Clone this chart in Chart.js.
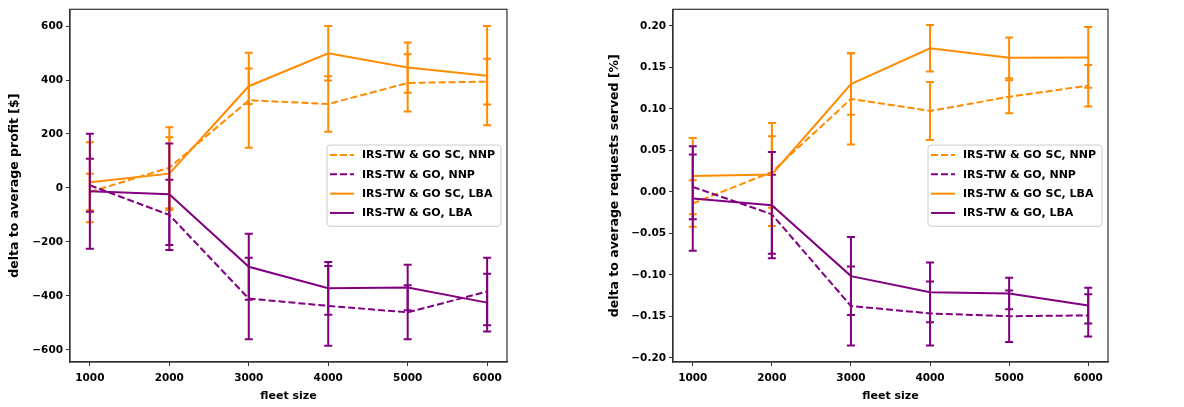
<!DOCTYPE html>
<html>
<head>
<meta charset="utf-8">
<script src="https://cdn.jsdelivr.net/npm/chart.js@4/dist/chart.umd.min.js"></script>
<style>
    html, body { margin: 0; padding: 0; background: #fff; }
    #wrap { position: relative; width: 1184px; height: 407px; }
    .panel { position: absolute; top: 0; height: 407px; }
</style>
</head>
<body>
<div id="wrap">
    <div class="panel" style="left:0;width:590px"><canvas id="profitChart"></canvas></div>
    <div class="panel" style="left:590px;width:594px"><canvas id="servedChart"></canvas></div>
</div>
<script>
    var fleetSizes = [1000, 2000, 3000, 4000, 5000, 6000];
    var seriesLabels = ['IRS-TW & GO SC, NNP', 'IRS-TW & GO, NNP', 'IRS-TW & GO SC, LBA', 'IRS-TW & GO, LBA'];

    // left panel: delta to average profit [$]
    var profitScNnp = [-15, 75, 325, 311, 389, 394];
    var profitScNnpErr = [68, 150, 176, 103, 106, 85];
    var profitGoNnp = [10, -100, -410, -437, -461, -384];
    var profitGoNnpErr = [98, 130, 151, 148, 100, 125];
    var profitScLba = [21, 53, 377, 499, 446, 416];
    var profitScLbaErr = [148, 135, 66, 101, 93, 184];
    var profitGoLba = [-12, -23, -292, -372, -369, -425];
    var profitGoLbaErr = [213, 188, 122, 98, 84, 107];
    var profitTicks = [-600, -400, -200, 0, 200, 400, 600];

    // right panel: delta to average requests served [%]
    var servedScNnp = [-0.014, 0.024, 0.112, 0.0975, 0.1146, 0.128];
    var servedScNnpErr = [0.028, 0.043, 0.055, 0.035, 0.020, 0.025];
    var servedGoNnp = [0.006, -0.027, -0.1375, -0.1465, -0.1498, -0.1489];
    var servedGoNnpErr = [0.039, 0.0475, 0.0475, 0.0385, 0.031, 0.0255];
    var servedScLba = [0.019, 0.021, 0.130, 0.173, 0.1615, 0.162];
    var servedScLbaErr = [0.046, 0.062, 0.037, 0.028, 0.0245, 0.0366];
    var servedGoLba = [-0.008, -0.016, -0.1015, -0.121, -0.1224, -0.137];
    var servedGoLbaErr = [0.063, 0.064, 0.047, 0.036, 0.019, 0.0215];
    var servedTicks = [-0.20, -0.15, -0.10, -0.05, 0.00, 0.05, 0.10, 0.15, 0.20];

    var ORANGE = '#ff8c00';
    var PURPLE = '#800080';
    var FONT = "'DejaVu Sans', sans-serif";

    var errorBars = {
        id: 'errorBars',
        afterDatasetDraw: function (chart, args) {
            var ds = chart.data.datasets[args.index];
            if (!ds.errors) return;
            var ctx = chart.ctx;
            var xs = chart.scales.x, ys = chart.scales.y;
            ctx.save();
            ctx.strokeStyle = ds.borderColor;
            ctx.lineWidth = 2;
            ctx.setLineDash([]);
            ds.data.forEach(function (p, i) {
                var x = xs.getPixelForValue(p.x);
                var top = ys.getPixelForValue(p.y + ds.errors[i]);
                var bot = ys.getPixelForValue(p.y - ds.errors[i]);
                ctx.beginPath();
                ctx.moveTo(x, top); ctx.lineTo(x, bot);
                ctx.moveTo(x - 4, top); ctx.lineTo(x + 4, top);
                ctx.moveTo(x - 4, bot); ctx.lineTo(x + 4, bot);
                ctx.stroke();
            });
            ctx.restore();
        }
    };

    var frameAndLegend = {
        id: 'frameAndLegend',
        afterDraw: function (chart) {
            var ctx = chart.ctx, a = chart.chartArea;
            ctx.save();
            ctx.strokeStyle = '#333';
            ctx.lineWidth = 1.2;
            ctx.strokeRect(a.left, a.top, a.right - a.left, a.bottom - a.top);

            // legend, centre right inside the axes
            ctx.font = 'bold 11px ' + FONT;
            var sets = chart.data.datasets;
            var textW = 0;
            sets.forEach(function (d) { textW = Math.max(textW, ctx.measureText(d.label).width); });
            var rowH = 19.3;
            var w = 3 + 24 + 8 + textW + 6;
            var h = rowH * sets.length + 4;
            var x0 = a.right - 6 - w;
            var y0 = (a.top + a.bottom) / 2 - h / 2;
            ctx.fillStyle = 'rgba(255,255,255,0.85)';
            ctx.strokeStyle = '#cccccc';
            ctx.lineWidth = 1;
            ctx.beginPath();
            ctx.roundRect(x0, y0, w, h, 3);
            ctx.fill();
            ctx.stroke();
            sets.forEach(function (d, i) {
                var cy = y0 + 10 + i * rowH;
                ctx.strokeStyle = d.borderColor;
                ctx.lineWidth = 2;
                ctx.setLineDash(d.borderDash || []);
                ctx.beginPath();
                ctx.moveTo(x0 + 3, cy);
                ctx.lineTo(x0 + 27, cy);
                ctx.stroke();
                ctx.setLineDash([]);
                ctx.fillStyle = '#000';
                ctx.textBaseline = 'middle';
                ctx.fillText(d.label, x0 + 35, cy + 0.5);
            });
            ctx.restore();
        }
    };

    function toPoints(values) {
        return values.map(function (v, i) { return { x: fleetSizes[i], y: v }; });
    }

    function makeDataset(i, values, errors) {
        var colour = (i % 2 === 0) ? ORANGE : PURPLE;
        return {
            label: seriesLabels[i],
            data: toPoints(values),
            errors: errors,
            borderColor: colour,
            backgroundColor: colour,
            borderWidth: 2,
            borderDash: i < 2 ? [7, 3] : [],
            pointRadius: 0,
            tension: 0,
            order: 3 - i
        };
    }

    function buildChart(canvasId, datasets, yTicks, yMin, yMax, yTitle, yWidth, rightPad, titleOffset, fmt) {
        var ctx = document.getElementById(canvasId).getContext('2d');
        return new Chart(ctx, {
            type: 'line',
            data: { datasets: datasets },
            options: {
                responsive: true,
                maintainAspectRatio: false,
                animation: false,
                devicePixelRatio: 1,
                layout: { padding: { top: 6, right: rightPad, bottom: 0, left: 0 } },
                plugins: { legend: { display: false }, tooltip: { enabled: false } },
                scales: {
                    x: {
                        type: 'linear',
                        min: 750,
                        max: 6250,
                        afterBuildTicks: function (s) { s.ticks = fleetSizes.map(function (v) { return { value: v }; }); },
                        afterFit: function (s) { s.height = 45; },
                        grid: { drawOnChartArea: false, drawTicks: true, tickLength: 4, color: '#333' },
                        border: { display: true, color: '#333', width: 1.2 },
                        ticks: { color: '#000', padding: 6, maxRotation: 0, font: { family: FONT, size: 10.5, weight: 'bold' },
                                 callback: function (v) { return String(v); } },
                        title: { display: true, text: 'fleet size', color: '#000', padding: { top: 0, bottom: 4 },
                                 font: { family: FONT, size: 11, weight: 'bold' } }
                    },
                    y: {
                        type: 'linear',
                        min: yMin,
                        max: yMax,
                        afterBuildTicks: function (s) { s.ticks = yTicks.map(function (v) { return { value: v }; }); },
                        afterFit: function (s) { s.width = yWidth; },
                        grid: { drawOnChartArea: false, drawTicks: true, tickLength: 4, color: '#333' },
                        border: { display: true, color: '#333', width: 1.2 },
                        ticks: { color: '#000', padding: 3, font: { family: FONT, size: 10.5, weight: 'bold' },
                                 callback: function (v) { return fmt(v); } },
                        title: { display: true, text: yTitle, color: '#000', padding: { top: titleOffset, bottom: 0 },
                                 font: { family: FONT, size: 12.5, weight: 'bold' } }
                    }
                }
            },
            plugins: [errorBars, frameAndLegend]
        });
    }

    function minusSign(s) { return s.replace('-', '\u2212'); }

    buildChart('profitChart', [
        makeDataset(0, profitScNnp, profitScNnpErr),
        makeDataset(1, profitGoNnp, profitGoNnpErr),
        makeDataset(2, profitScLba, profitScLbaErr),
        makeDataset(3, profitGoLba, profitGoLbaErr)
    ], profitTicks, -645, 662, 'delta to average profit [$]', 70, 83, 7.5,
        function (v) { return minusSign(String(Math.round(v))); });

    buildChart('servedChart', [
        makeDataset(0, servedScNnp, servedScNnpErr),
        makeDataset(1, servedGoNnp, servedGoNnpErr),
        makeDataset(2, servedScLba, servedScLbaErr),
        makeDataset(3, servedGoLba, servedGoLbaErr)
    ], servedTicks, -0.205, 0.220, 'delta to average requests served [%]', 83, 76, 17.5,
        function (v) { return minusSign(v.toFixed(2)); });
</script>
</body>
</html>
